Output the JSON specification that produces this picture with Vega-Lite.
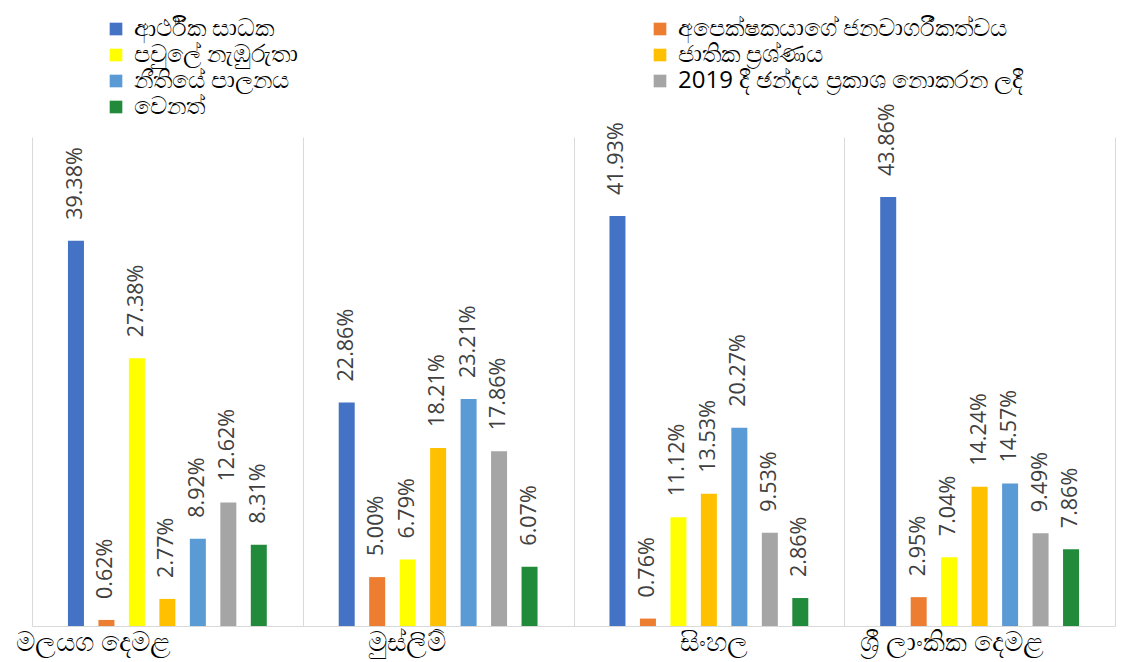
{
  "$schema": "https://vega.github.io/schema/vega-lite/v6.json",
  "width": 1083,
  "height": 489,
  "autosize": {"type": "none"},
  "padding": {"left": 32, "top": 137, "right": 26, "bottom": 36},
  "background": "white",
  "config": {"view": {"stroke": null}, "font": "Open Sans"},
  "data": {
    "values": [
      {"group": "මලයග දෙමළ", "series": "ආර්ථික සාධක", "value": 0.3938},
      {"group": "මලයග දෙමළ", "series": "අපෙක්ෂකයාගේ ජනවාගරීකත්වය", "value": 0.0062},
      {"group": "මලයග දෙමළ", "series": "පවුලේ නැඹුරුතා", "value": 0.2738},
      {"group": "මලයග දෙමළ", "series": "ජාතික ප්‍රශ්ණය", "value": 0.0277},
      {"group": "මලයග දෙමළ", "series": "නීතියේ පාලනය", "value": 0.0892},
      {"group": "මලයග දෙමළ", "series": "2019 දී ඡන්දය ප්‍රකාශ නොකරන ලදී", "value": 0.1262},
      {"group": "මලයග දෙමළ", "series": "වෙනත්", "value": 0.0831},
      {"group": "මුස්ලිම්", "series": "ආර්ථික සාධක", "value": 0.2286},
      {"group": "මුස්ලිම්", "series": "අපෙක්ෂකයාගේ ජනවාගරීකත්වය", "value": 0.05},
      {"group": "මුස්ලිම්", "series": "පවුලේ නැඹුරුතා", "value": 0.0679},
      {"group": "මුස්ලිම්", "series": "ජාතික ප්‍රශ්ණය", "value": 0.1821},
      {"group": "මුස්ලිම්", "series": "නීතියේ පාලනය", "value": 0.2321},
      {"group": "මුස්ලිම්", "series": "2019 දී ඡන්දය ප්‍රකාශ නොකරන ලදී", "value": 0.1786},
      {"group": "මුස්ලිම්", "series": "වෙනත්", "value": 0.0607},
      {"group": "සිංහල", "series": "ආර්ථික සාධක", "value": 0.4193},
      {"group": "සිංහල", "series": "අපෙක්ෂකයාගේ ජනවාගරීකත්වය", "value": 0.0076},
      {"group": "සිංහල", "series": "පවුලේ නැඹුරුතා", "value": 0.1112},
      {"group": "සිංහල", "series": "ජාතික ප්‍රශ්ණය", "value": 0.1353},
      {"group": "සිංහල", "series": "නීතියේ පාලනය", "value": 0.2027},
      {"group": "සිංහල", "series": "2019 දී ඡන්දය ප්‍රකාශ නොකරන ලදී", "value": 0.0953},
      {"group": "සිංහල", "series": "වෙනත්", "value": 0.0286},
      {"group": "ශ්‍රී ලාංකික දෙමළ", "series": "ආර්ථික සාධක", "value": 0.4386},
      {"group": "ශ්‍රී ලාංකික දෙමළ", "series": "අපෙක්ෂකයාගේ ජනවාගරීකත්වය", "value": 0.0295},
      {"group": "ශ්‍රී ලාංකික දෙමළ", "series": "පවුලේ නැඹුරුතා", "value": 0.0704},
      {"group": "ශ්‍රී ලාංකික දෙමළ", "series": "ජාතික ප්‍රශ්ණය", "value": 0.1424},
      {"group": "ශ්‍රී ලාංකික දෙමළ", "series": "නීතියේ පාලනය", "value": 0.1457},
      {"group": "ශ්‍රී ලාංකික දෙමළ", "series": "2019 දී ඡන්දය ප්‍රකාශ නොකරන ලදී", "value": 0.0949},
      {"group": "ශ්‍රී ලාංකික දෙමළ", "series": "වෙනත්", "value": 0.0786}
    ]
  },
  "encoding": {
    "x": {
      "field": "group",
      "type": "nominal",
      "sort": ["මලයග දෙමළ", "මුස්ලිම්", "සිංහල", "ශ්‍රී ලාංකික දෙමළ"],
      "scale": {"paddingInner": 0, "paddingOuter": 0},
      "axis": {
        "title": null,
        "tickBand": "extent",
        "grid": true,
        "gridColor": "#d9d9d9",
        "domainColor": "#d9d9d9",
        "ticks": false,
        "labelAngle": 0,
        "labelFontSize": 27,
        "labelColor": "#000000",
        "labelPadding": 3,
        "labelLimit": 400,
        "labelOffset": {
          "condition": [
            {"test": "datum.value === 'මලයග දෙමළ'", "value": -74},
            {"test": "datum.value === 'මුස්ලිම්'", "value": -32},
            {"test": "datum.value === 'සිංහල'", "value": 5}
          ],
          "value": -28
        }
      }
    },
    "xOffset": {
      "field": "series",
      "type": "nominal",
      "sort": ["ආර්ථික සාධක", "අපෙක්ෂකයාගේ ජනවාගරීකත්වය", "පවුලේ නැඹුරුතා", "ජාතික ප්‍රශ්ණය", "නීතියේ පාලනය", "2019 දී ඡන්දය ප්‍රකාශ නොකරන ලදී", "වෙනත්"],
      "scale": {"paddingInner": 0.115, "paddingOuter": 1}
    },
    "y": {
      "field": "value",
      "type": "quantitative",
      "scale": {"domain": [0, 0.5]},
      "axis": null
    }
  },
  "layer": [
    {
      "mark": {"type": "bar", "width": 16},
      "encoding": {
        "color": {
          "field": "series",
          "type": "nominal",
          "scale": {
            "domain": ["ආර්ථික සාධක", "පවුලේ නැඹුරුතා", "නීතියේ පාලනය", "වෙනත්", "අපෙක්ෂකයාගේ ජනවාගරීකත්වය", "ජාතික ප්‍රශ්ණය", "2019 දී ඡන්දය ප්‍රකාශ නොකරන ලදී"],
            "range": ["#4472C4", "#FFFF00", "#5B9BD5", "#228B3B", "#ED7D31", "#FFC000", "#A5A5A5"]
          },
          "legend": {
            "orient": "none",
            "legendX": 72,
            "legendY": -120,
            "columns": 2,
            "title": null,
            "symbolType": "square",
            "symbolSize": 160,
            "symbolStrokeWidth": 0,
            "labelFontSize": 24,
            "labelOffset": 6,
            "labelColor": "#000000",
            "labelLimit": 600,
            "gridAlign": "all",
            "columnPadding": 168,
            "rowPadding": 2
          }
        }
      }
    },
    {
      "mark": {"type": "text", "angle": 270, "align": "left", "baseline": "middle", "dx": 21, "fontSize": 21.5, "color": "#404040"},
      "encoding": {
        "text": {"field": "value", "type": "quantitative", "format": ".2%"}
      }
    }
  ]
}
